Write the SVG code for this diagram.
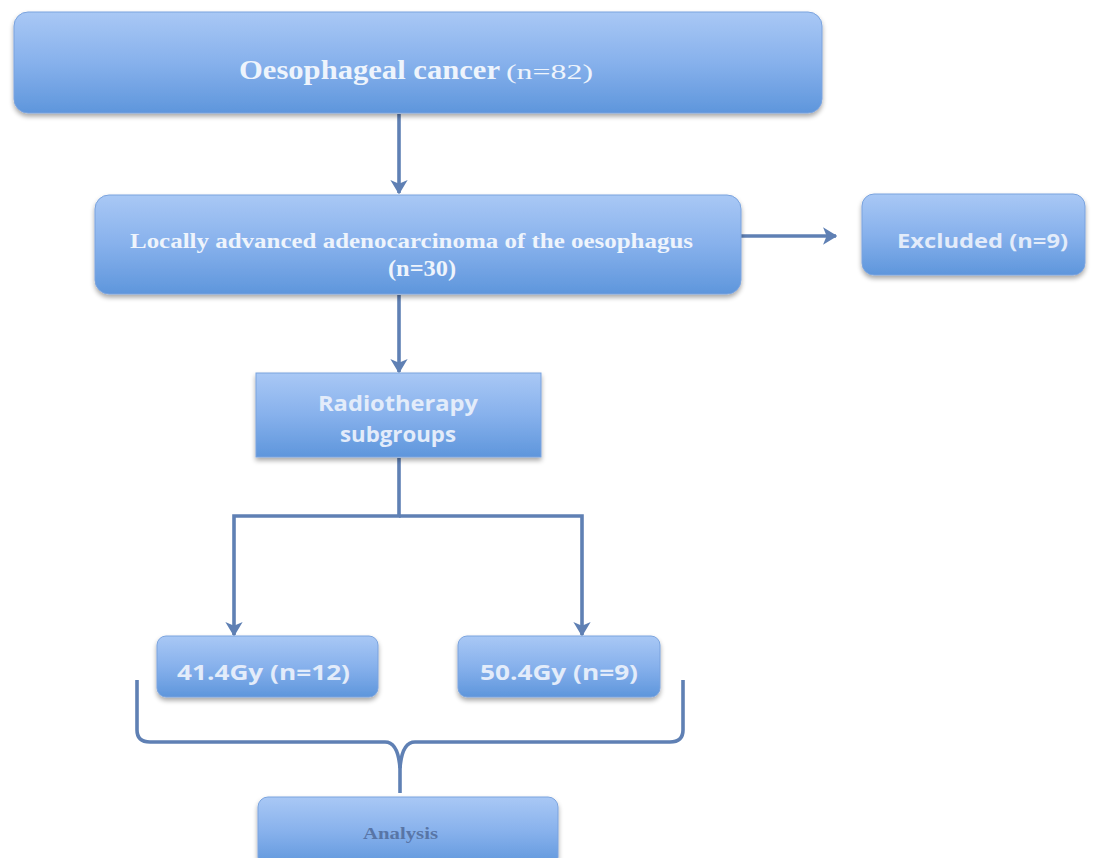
<svg xmlns="http://www.w3.org/2000/svg" width="1093" height="858" viewBox="0 0 1093 858">
<defs>
<linearGradient id="g" x1="0" y1="0" x2="0" y2="1">
<stop offset="0" stop-color="#a9c8f5"/>
<stop offset="0.5" stop-color="#87b1ec"/>
<stop offset="1" stop-color="#5e96dc"/>
</linearGradient>
<filter id="sh" x="-5%" y="-10%" width="110%" height="130%">
<feGaussianBlur in="SourceAlpha" stdDeviation="2.5"/>
<feOffset dx="0" dy="3" result="b"/>
<feComponentTransfer><feFuncA type="linear" slope="0.35"/></feComponentTransfer>
<feMerge><feMergeNode/><feMergeNode in="SourceGraphic"/></feMerge>
</filter>
<marker id="ah" viewBox="0 0 10 12" refX="9" refY="6" markerWidth="4" markerHeight="4.8" orient="auto" markerUnits="strokeWidth">
<path d="M0,0 L10,6 L0,12 L2.5,6 Z" fill="#5f80b4"/>
</marker>
</defs>
<style>
.box{fill:url(#g);filter:url(#sh);stroke:#7aa3de;stroke-width:1}
.conn{fill:none;stroke:#5f80b4;stroke-width:3.6}
.ser{font-family:"Liberation Serif",serif;font-weight:bold;fill:#eef4fc}
.serr{font-family:"Liberation Serif",serif;font-weight:normal;fill:#eef4fc}
.san{font-family:"Open Sans","Liberation Sans",sans-serif;font-weight:bold;fill:#e3ecfa}
</style>
<rect width="1093" height="858" fill="#ffffff"/>
<g id="connectors">
<line class="conn" x1="399" y1="114" x2="399" y2="193" marker-end="url(#ah)"/>
<line class="conn" x1="741" y1="236" x2="836" y2="236" marker-end="url(#ah)"/>
<line class="conn" x1="399" y1="295" x2="399" y2="372" marker-end="url(#ah)"/>
<polyline class="conn" points="399,458 399,516 234,516 234,635" marker-end="url(#ah)"/>
<polyline class="conn" points="399,516 582,516 582,635" marker-end="url(#ah)"/>
<path class="conn" d="M137,680 L137,730 Q137,742 150,742 L385,742 Q398,742 400,768 Q402,742 415,742 L670,742 Q683,742 683,730 L683,680"/>
<line class="conn" x1="400" y1="766" x2="400" y2="793"/>
</g>
<g id="n1">
<rect class="box" x="14" y="12" width="808" height="101" rx="14"/>
<text x="239" y="79" class="ser" font-size="28" textLength="261" lengthAdjust="spacingAndGlyphs">Oesophageal cancer</text>
<text x="506" y="79" class="serr" font-size="22" textLength="87" lengthAdjust="spacingAndGlyphs">(n=82)</text>
</g>
<g id="n2">
<rect class="box" x="95" y="195" width="646" height="99" rx="14"/>
<text x="130" y="248" class="ser" font-size="22" textLength="563" lengthAdjust="spacingAndGlyphs">Locally advanced adenocarcinoma of the oesophagus</text>
<text x="388" y="276" class="ser" font-size="23" textLength="68" lengthAdjust="spacingAndGlyphs">(n=30)</text>
</g>
<g id="n3">
<rect class="box" x="862" y="194" width="223" height="81" rx="12"/>
<text x="897" y="248" class="san" font-size="20" textLength="171" lengthAdjust="spacingAndGlyphs">Excluded (n=9)</text>
</g>
<g id="n4">
<rect class="box" x="256" y="373" width="285" height="84"/>
<text x="318" y="411" class="san" font-size="21" textLength="160" lengthAdjust="spacingAndGlyphs">Radiotherapy</text>
<text x="340" y="442" class="san" font-size="21" textLength="116" lengthAdjust="spacingAndGlyphs">subgroups</text>
</g>
<g id="n5">
<rect class="box" x="157" y="636" width="221" height="61" rx="9"/>
<text x="177" y="680" class="san" font-size="21" textLength="173" lengthAdjust="spacingAndGlyphs">41.4Gy (n=12)</text>
</g>
<g id="n6">
<rect class="box" x="458" y="636" width="202" height="61" rx="9"/>
<text x="480" y="680" class="san" font-size="21" textLength="158" lengthAdjust="spacingAndGlyphs">50.4Gy (n=9)</text>
</g>
<g id="n7">
<rect class="box" x="258" y="797" width="300" height="70" rx="10"/>
<text x="363" y="839" class="ser" font-size="17" textLength="75" lengthAdjust="spacingAndGlyphs" style="fill:#5875a6">Analysis</text>
</g>
</svg>
